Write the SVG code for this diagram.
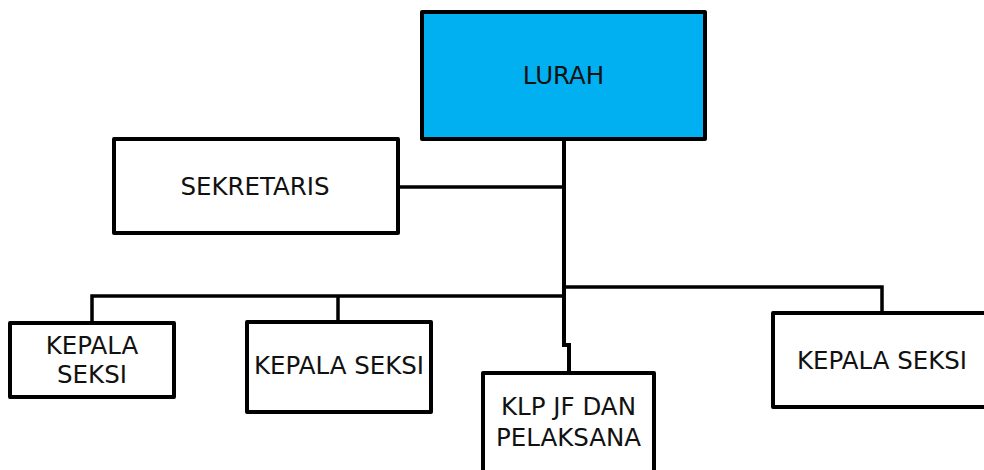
<svg xmlns="http://www.w3.org/2000/svg" width="984" height="470" viewBox="0 0 984 470">
<style>
.box{fill:#fff;stroke:#000;stroke-width:4;stroke-linejoin:round}
.top{fill:#00B0F0}
.t{font-family:"DejaVu Sans",sans-serif;font-size:24.5px;fill:#111;text-anchor:middle}
.c{fill:none;stroke:#000;stroke-width:4;stroke-linejoin:miter}
.c2{fill:none;stroke:#000;stroke-width:3.5}
</style>
<rect width="984" height="470" fill="#fff"/>
<g id="connectors">
<path class="c" d="M564 139 V345 H569 V373"/>
<path class="c2" d="M398 187 H564"/>
<path class="c2" d="M92 323 V296 H564"/>
<path class="c2" d="M338 322 V296"/>
<path class="c2" d="M564 287 H882 V313"/>
</g>
<g id="lurah">
<rect class="box top" x="422" y="12" width="283" height="127"/>
<text class="t" x="563.5" y="84">LURAH</text>
</g>
<g id="sekretaris">
<rect class="box" x="114" y="139" width="284" height="94"/>
<text class="t" x="255" y="195">SEKRETARIS</text>
</g>
<g id="kepala-seksi-1">
<rect class="box" x="10" y="323" width="164" height="74"/>
<text class="t" x="92" y="354">KEPALA</text>
<text class="t" x="92" y="383">SEKSI</text>
</g>
<g id="kepala-seksi-2">
<rect class="box" x="247" y="322" width="184" height="90"/>
<text class="t" x="339" y="374">KEPALA SEKSI</text>
</g>
<g id="klp-jf">
<rect class="box" x="483" y="373" width="171" height="110"/>
<text class="t" x="568.5" y="415">KLP JF DAN</text>
<text class="t" x="568.5" y="446">PELAKSANA</text>
</g>
<g id="kepala-seksi-3">
<rect class="box" x="773" y="313" width="219" height="94"/>
<text class="t" x="882" y="369">KEPALA SEKSI</text>
</g>
</svg>
